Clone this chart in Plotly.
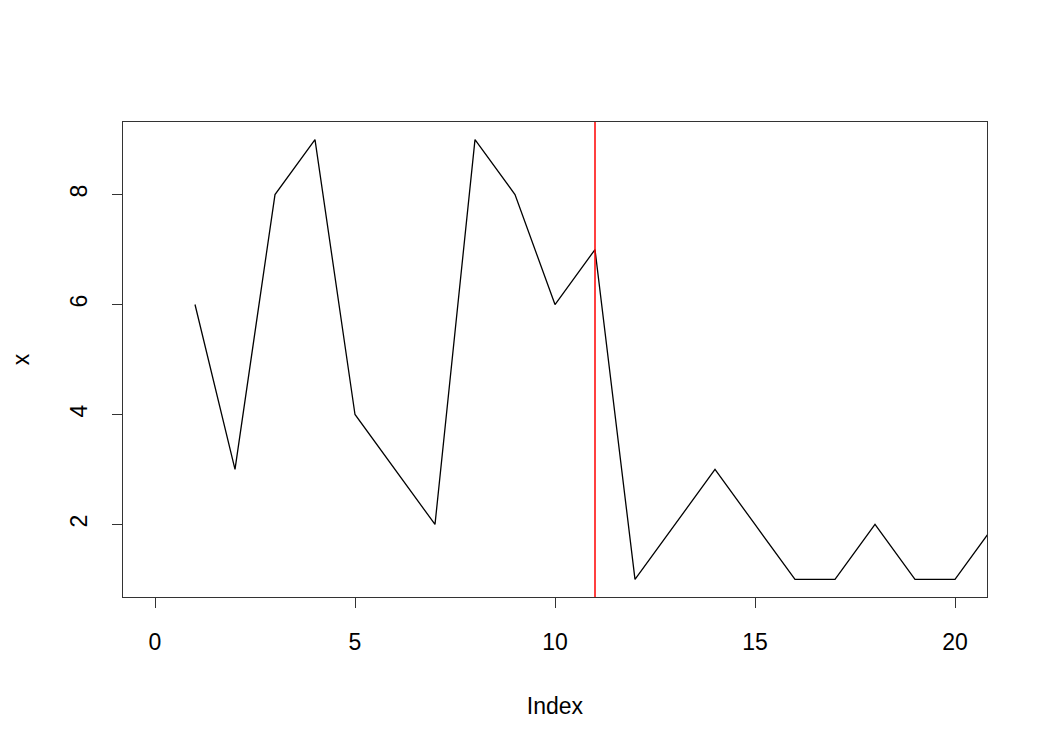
import plotly.graph_objects as go

index = list(range(1, 22))
x_values = [6, 3, 8, 9, 4, 3, 2, 9, 8, 6, 7, 1, 2, 3, 2, 1, 1, 2, 1, 1, 2]
cut_index = 11
x_ticks = [0, 5, 10, 15, 20]
y_ticks = [2, 4, 6, 8]

font = dict(family="Liberation Sans, Arial, Helvetica, sans-serif", size=23, color="black")

fig = go.Figure()
fig.add_trace(go.Scatter(x=index, y=x_values, mode="lines",
                         line=dict(color="black", width=1.3), showlegend=False))
fig.add_vline(x=cut_index, line=dict(color="#ff0000", width=1.5))

fig.update_layout(
    width=1050, height=750,
    margin=dict(l=115, r=71, t=114, b=161),
    paper_bgcolor="white", plot_bgcolor="white",
    font=font,
    xaxis=dict(range=[-0.8, 20.8], tickvals=x_ticks, ticks="outside", ticklen=10,
               tickwidth=1.3, tickcolor="#333", showline=True, mirror=True,
               linecolor="#333", linewidth=1.3, showgrid=False, zeroline=False,
               ticklabelstandoff=14, automargin=False,
               title=dict(text="Index", font=font, standoff=44)),
    yaxis=dict(range=[0.68, 9.32], tickvals=y_ticks, ticks="outside", ticklen=10,
               tickwidth=1.3, tickcolor="#333", showline=True, mirror=True,
               linecolor="#333", linewidth=1.3, showgrid=False, zeroline=False,
               tickangle=-90, ticklabelstandoff=16, automargin=False,
               title=dict(text="x", font=font, standoff=44)),
)

fig.write_html("out.html")
